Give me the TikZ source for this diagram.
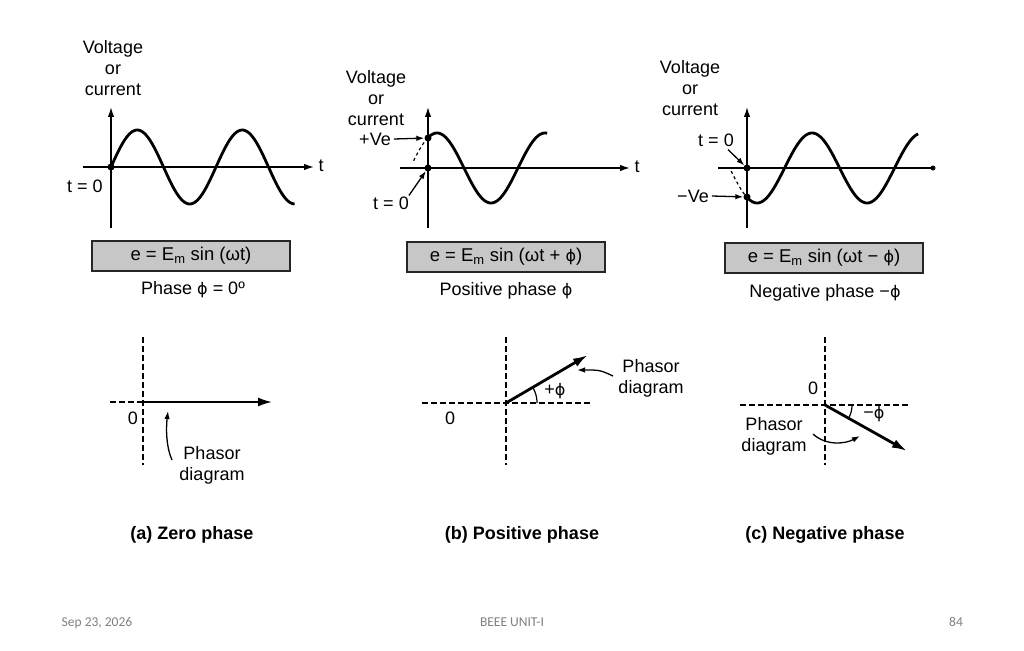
\documentclass[tikz,border=0pt]{standalone}
\usepackage{fontspec}
\setmainfont{Liberation Sans}
\newfontfamily\footfont{Carlito}
\newfontfamily\phifont{DejaVu Sans}
\newcommand\fph{{\phifont\fontsize{16}{21}\selectfont ϕ}}
\usetikzlibrary{arrows.meta}
\begin{document}
\begin{tikzpicture}[x=1pt,y=-1pt,
  font=\fontsize{18}{21}\selectfont,
  axisarr/.style={line width=1.4, -{Latex[length=10,width=6.5]}},
  wave/.style={line width=2.8},
  wavedash/.style={line width=1.2, dash pattern=on 3 off 3},
  lbl/.style={inner sep=0, align=center, font=\fontsize{18}{21}\selectfont},
  eqbox/.style={draw=black!85, fill=black!22, line width=2.5, minimum width=198, minimum height=30, inner sep=0, font=\fontsize{18.5}{21}\selectfont},
  dashax/.style={line width=1.4, dash pattern=on 5.5 off 3.5},
  phasor/.style={line width=2.8, -{Latex[length=15,width=9]}},
  ptr/.style={line width=1.3, -{Latex[length=8,width=5.5]}},
  dotc/.style={circle, fill=black, inner sep=0, minimum size=7},
  captext/.style={inner sep=0, font=\fontsize{18}{21}\selectfont\bfseries},
  foot/.style={inner sep=0, anchor=base, text=black!50, font=\footfont\fontsize{13.5}{15}\selectfont}]
\useasboundingbox (0,0) rectangle (1024,650);
\fill[white] (0,0) rectangle (1024,650);

% ================= Panel (a) =================
\coordinate (ay0) at (111,228);
\coordinate (ay1) at (111,107);
\coordinate (ax0) at (83,167);
\coordinate (ax1) at (314,167);
\draw[axisarr] (ay0) -- (ay1);
\draw[axisarr] (ax0) -- (ax1);
\node[lbl] (ta) at (321,166) {t};
\draw[wave] plot[domain=0:1.75, samples=120] ({111+105*\x},{167-37*sin(360*\x)});
\node[dotc] (oa) at (111,167) {};
\node[lbl] (vca) at (113,68) {Voltage\\or\\current};
\node[lbl] (t0a) at (85,186) {t = 0};
\node[eqbox] (boxa) at (191,256) {e = E\textsubscript{m} sin (ωt)};
\node[lbl] (pha) at (193,290) {Phase \fph{} = 0º};

% ================= Panel (b) =================
\coordinate (by0) at (428,228);
\coordinate (by1) at (428,107);
\coordinate (bx0) at (400,168);
\coordinate (bx1) at (630,168);
\draw[axisarr] (by0) -- (by1);
\draw[axisarr] (bx0) -- (bx1);
\node[lbl] (tb) at (637,167) {t};
\draw[wavedash] plot[domain=12:57, samples=30] ({428+(\x-60)/360*108},{168-35*sin(\x)});
\draw[wave] plot[domain=60:457, samples=150] ({428+(\x-60)/360*108},{168-35*sin(\x)});
\node[dotc] (pb) at (428,138) {};
\node[dotc] (ob) at (428,168) {};
\node[lbl] (vcb) at (376,98) {Voltage\\or\\current};
\node[lbl] (veb) at (375,139) {+Ve};
\node[lbl] (t0b) at (391,203) {t = 0};
\draw[ptr] (veb.east) ++(3,0) -- (pb);
\draw[ptr] (t0b.north east) ++(0,-1) -- (ob);
\node[eqbox] (boxb) at (506,257) {e = E\textsubscript{m} sin (ωt + \fph)};
\node[lbl] (phb) at (506,291) {Positive phase \fph};

% ================= Panel (c) =================
\coordinate (cy0) at (747,228);
\coordinate (cy1) at (747,107);
\coordinate (cx0) at (718,168);
\coordinate (cx1) at (933,168);
\draw[axisarr] (cy0) -- (cy1);
\draw[line width=1.4] (cx0) -- (cx1);
\node[circle, fill=black, inner sep=0, minimum size=5] (ce) at (cx1) {};
\draw[wavedash] plot[domain=185:234, samples=30] ({747+(\x-237)/360*110},{168-35*sin(\x)});
\draw[wave] plot[domain=237:797, samples=180] ({747+(\x-237)/360*110},{168-35*sin(\x)});
\node[dotc] (oc) at (747,168) {};
\node[dotc] (nc) at (747,197) {};
\node[lbl] (vcc) at (690,88) {Voltage\\or\\current};
\node[lbl] (t0c) at (716,140) {t = 0};
\node[lbl] (vec) at (693,196) {−Ve};
\draw[ptr] (t0c.south east) ++(-6,3) -- (oc);
\draw[ptr] (vec.east) ++(3,0) -- (nc);
\node[eqbox] (boxc) at (824,258) {e = E\textsubscript{m} sin (ωt − \fph)};
\node[lbl] (phc) at (825,293) {Negative phase −\fph};

% ================= Phasor (a) =================
\coordinate (pa0) at (143,402);
\coordinate (pav0) at (143,337);
\coordinate (pav1) at (143,465);
\coordinate (pah0) at (110,402);
\coordinate (pa1) at (273,402);
\draw[dashax] (pav0) -- (pav1);
\draw[dashax] (pah0) -- (pa0);
\draw[phasor] (pa0) -- (pa1);
\node[lbl] (za) at (133,418) {0};
\node[lbl] (pda) at (212,465) {Phasor\\diagram};
\coordinate (paA) at (172,460);
\coordinate (paB) at (168,411);
\draw[ptr] (paA) .. controls (166,447) and (166,428) .. (paB);
\node[captext] (capa) at (192,535) {(a) Zero phase};

% ================= Phasor (b) =================
\coordinate (pb0) at (506,403);
\coordinate (pbv0) at (506,337);
\coordinate (pbv1) at (506,465);
\coordinate (pbh0) at (422,403);
\coordinate (pbh1) at (590,403);
\coordinate (pb1) at (588,355);
\draw[dashax] (pbv0) -- (pbv1);
\draw[dashax] (pbh0) -- (pbh1);
\draw[phasor] (pb0) -- (pb1);
\draw[line width=1.2] plot[domain=0:30, samples=20] ({506+31*cos(\x)},{403-31*sin(\x)});
\node[lbl] (phib) at (555,391) {+\fph};
\node[lbl] (zb) at (450,418) {0};
\node[lbl] (pdb) at (651,378) {Phasor\\diagram};
\coordinate (pbA) at (613,376);
\coordinate (pbB) at (577,370);
\draw[ptr] (pbA) .. controls (600,370) .. (pbB);
\node[captext] (capb) at (522,535) {(b) Positive phase};

% ================= Phasor (c) =================
\coordinate (pc0) at (825,405);
\coordinate (pcv0) at (825,337);
\coordinate (pcv1) at (825,465);
\coordinate (pch0) at (740,405);
\coordinate (pch1) at (910,405);
\coordinate (pc1) at (907,451);
\draw[dashax] (pcv0) -- (pcv1);
\draw[dashax] (pch0) -- (pch1);
\draw[phasor] (pc0) -- (pc1);
\draw[line width=1.2] plot[domain=0:-29, samples=20] ({825+27*cos(\x)},{405-27*sin(\x)});
\node[lbl] (phic) at (874,414) {−\fph};
\node[lbl] (zc) at (813,388) {0};
\node[lbl] (pdc) at (774,436) {Phasor\\diagram};
\coordinate (pcA) at (813,434);
\coordinate (pcB) at (860,436);
\draw[ptr] (pcA) .. controls (826,446) and (845,444) .. (pcB);
\node[captext] (capc) at (825,535) {(c) Negative phase};

% ================= Footer =================
\node[foot] (fdate) at (97,626) {Sep 23, 2026};
\node[foot] (ftitle) at (512,626) {BEEE UNIT-I};
\node[foot] (fnum) at (956,626) {84};
\end{tikzpicture}
\end{document}
